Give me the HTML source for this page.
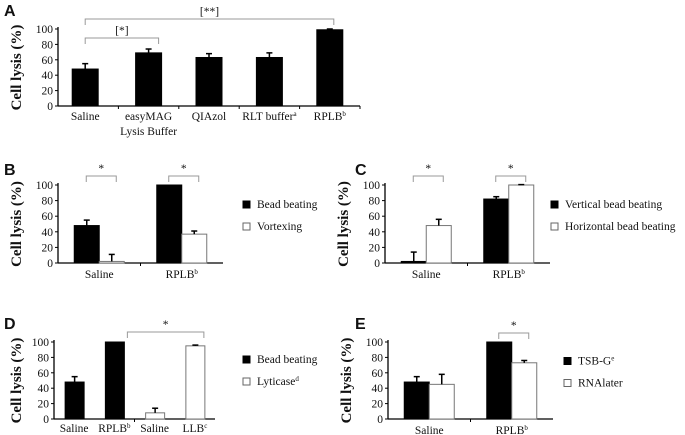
<!DOCTYPE html>
<html><head><meta charset="utf-8"><style>
body{margin:0;background:#fff;}
svg{display:block;}
svg text{font-family:"Liberation Serif","DejaVu Serif",serif;font-size:11.5px;fill:#111;}
svg text.pl{font-family:"Liberation Sans",sans-serif;font-weight:bold;font-size:16px;}
svg text.yt{font-weight:bold;font-size:15px;}
</style></head><body>
<svg id="fig" width="685" height="435" viewBox="0 0 685 435" xmlns="http://www.w3.org/2000/svg" font-family="Liberation Serif, serif">
<text class="pl" font-family="Liberation Sans, sans-serif" x="4" y="16">A</text>
<text class="pl" font-family="Liberation Sans, sans-serif" x="4" y="175">B</text>
<text class="pl" font-family="Liberation Sans, sans-serif" x="355" y="175">C</text>
<text class="pl" font-family="Liberation Sans, sans-serif" x="4" y="329">D</text>
<text class="pl" font-family="Liberation Sans, sans-serif" x="355" y="329">E</text>
</svg>
<script>
// Panel A data
const aCats = ["Saline","easyMAG|Lysis Buffer","QIAzol","RLT buffer^a","RPLB^b"];
const aVals = [48,69,63,63,99];
const aErr = [7,5,5,6,1];
// Panel B
const bCats = ["Saline","RPLB^b"];
const bBlack = [48,100]; const bBlackErr = [7,0];
const bWhite = [2,37]; const bWhiteErr = [9,4];
// Panel C
const cCats = ["Saline","RPLB^b"];
const cBlack = [2,82]; const cBlackErr = [12,3];
const cWhite = [48,100]; const cWhiteErr = [8,0.5];
// Panel D
const dCats = ["Saline","RPLB^b","Saline","LLB^c"];
const dVals = [48,100,8,95]; const dErr = [7,0,6,1];
const dFill = ["#000","#000","#fff","#fff"];
// Panel E
const eCats = ["Saline","RPLB^b"];
const eBlack = [48,100]; const eBlackErr = [7,0];
const eWhite = [45,73]; const eWhiteErr = [13,3];
const yTicks = [0,20,40,60,80,100];

const svg = document.getElementById('fig');
const NS = "http://www.w3.org/2000/svg";
const SERIF = "Liberation Serif, DejaVu Serif, serif";
function mk(tag, attrs, parent){const e=document.createElementNS(NS,tag);for(const k in attrs)e.setAttribute(k,attrs[k]);if(tag==='text'&&!attrs['font-family'])e.setAttribute('font-family',SERIF);(parent||svg).appendChild(e);return e;}
function label(txt,x,y,parent){
  const lines=txt.split('|');
  lines.forEach((ln,i)=>{
    const t=mk('text',{x:x,y:y+i*15,'text-anchor':'middle'},parent);
    
    
    const p=ln.split('^');
    t.appendChild(document.createTextNode(p[0]));
    if(p[1]){const s=mk('tspan',{'font-size':'7','dy':'-4'},t);s.textContent=p[1];}
  });
}
function axes(g,x0,x1,y0,y100,ttlX,boundaries){
  const ys=v=>y0-(y0-y100)*v/100;
  mk('line',{x1:x0,y1:y100-2,x2:x0,y2:y0,stroke:'#000','stroke-width':1.3},g);
  mk('line',{x1:x0,y1:y0,x2:x1,y2:y0,stroke:'#000','stroke-width':1.3},g);
  yTicks.forEach(v=>{
    const tk=mk('line',{x1:x0-3,y1:ys(v),x2:x0,y2:ys(v),stroke:'#000'},g);
    
    
    const t=mk('text',{x:x0-5,y:ys(v)+4,'text-anchor':'end'},g);
    
    
    t.textContent=v;
  });
  boundaries.forEach(bx=>mk('line',{x1:bx,y1:y0,x2:bx,y2:y0+3,stroke:'#000'},g));
  const cy=(y0+y100)/2;
  const tt=mk('text',{class:'yt','font-weight':'bold','font-size':'15',x:ttlX,y:cy,'text-anchor':'middle',transform:`rotate(-90 ${ttlX} ${cy})`},g);
  
  
  tt.textContent='Cell lysis (%)';
  return ys;
}
function bar(g,x,w,v,e,fill,ys,name){
  const r=mk('rect',{x:x,y:ys(v),width:w,height:ys(0)-ys(v),fill:fill,stroke:fill==='#000'?'#000':'#777','stroke-width':1},g);
  
  
  if(e>0){const cx=x+w/2;
    mk('line',{x1:cx,y1:ys(v),x2:cx,y2:ys(v+e),stroke:'#000','stroke-width':1.5},g);
    mk('line',{x1:cx-3,y1:ys(v+e),x2:cx+3,y2:ys(v+e),stroke:'#000','stroke-width':1.5},g);}
}
function bracket(g,xa,xb,y,txt){
  const b=mk('path',{d:`M${xa} ${y+6}V${y}H${xb}V${y+6}`,fill:'none',stroke:'#999','stroke-width':1},g);
  
  
  const t=mk('text',{x:(xa+xb)/2,y:y-4,'text-anchor':'middle','font-size':'11',fill:'#555'},g);
  
  
  t.textContent=txt;
}
function legend(g,x,y,txt,fill){
  const s=mk('rect',{x:x,y:y-7,width:7,height:7,fill:fill,stroke:fill==='#000'?'#000':'#666'},g);
  
  
  const t=mk('text',{x:x+14,y:y},g);
  
  
  const p=txt.split('^');t.appendChild(document.createTextNode(p[0]));
  if(p[1]){const s2=mk('tspan',{'font-size':'7','dy':'-4'},t);s2.textContent=p[1];}
}
function grp(name){const g=mk('g',{});return g;}

// Panel A
(function(){
  const g=grp('panel-a-chart');
  const x0=58,x1=360,step=(x1-x0)/aCats.length;
  const cx=i=>x0+step*(i+0.5)+ (i===0?-3:0);
  const bounds=aCats.map((c,i)=>x0+step*(i+1));
  const ys=axes(g,x0,x1,106,29,21,bounds);
  aCats.forEach((c,i)=>{bar(g,cx(i)-13,26,aVals[i],aErr[i],'#000',ys,'bar-a-'+i);label(c,cx(i),120,g);});
  bracket(g,cx(0),cx(1)+10,38,'[*]');
  bracket(g,cx(0),cx(4)+4,19,'[**]');
})();
// Generic paired panel
function paired(name,ox,y0,y100,cats,blk,blkE,wht,whtE,leg1,leg2,legX,br){
  const g=grp(name);
  const x0=ox,x1=ox+165,step=(x1-x0)/cats.length;
  const cx=i=>x0+step*(i+0.5);
  const ys=axes(g,x0,x1,y0,y100,ox-37,[x0+step]);
  cats.forEach((c,i)=>{
    bar(g,cx(i)-25,25,blk[i],blkE[i],'#000',ys,'bar-black-'+i);
    bar(g,cx(i),25,wht[i],whtE[i],'#fff',ys,'bar-white-'+i);
    label(c,cx(i),y0+15,g);
  });
  br.forEach(i=>bracket(g,cx(i)-13,cx(i)+17,y100-9,'*'));
  legend(g,legX,(y0+y100)/2-16,leg1,'#000');
  legend(g,legX,(y0+y100)/2+6,leg2,'#fff');
}
paired('panel-b-chart',58,263,185,bCats,bBlack,bBlackErr,bWhite,bWhiteErr,'Bead beating','Vortexing',243,[0,1]);
paired('panel-c-chart',385,263,185,cCats,cBlack,cBlackErr,cWhite,cWhiteErr,'Vertical bead beating','Horizontal bead beating',551,[0,1]);
paired('panel-e-chart',388,419,342,eCats,eBlack,eBlackErr,eWhite,eWhiteErr,'TSB-G^e','RNAlater',564,[1]);
// Panel D
(function(){
  const g=grp('panel-d-chart');
  const x0=54,x1=215,step=(x1-x0)/dCats.length;
  const cx=i=>x0+step*(i+0.5);
  const ys=axes(g,x0,x1,419,342,21,[x0+step*2]);
  dCats.forEach((c,i)=>{bar(g,cx(i)-9,19,dVals[i],dErr[i],dFill[i],ys,'bar-d-'+i);label(c,cx(i),432,g);});
  bracket(g,cx(1)+13,cx(3)+9,332,'*');
  legend(g,243,363,'Bead beating','#000');
  legend(g,243,385,'Lyticase^d','#fff');
})();
</script>
</body></html>
